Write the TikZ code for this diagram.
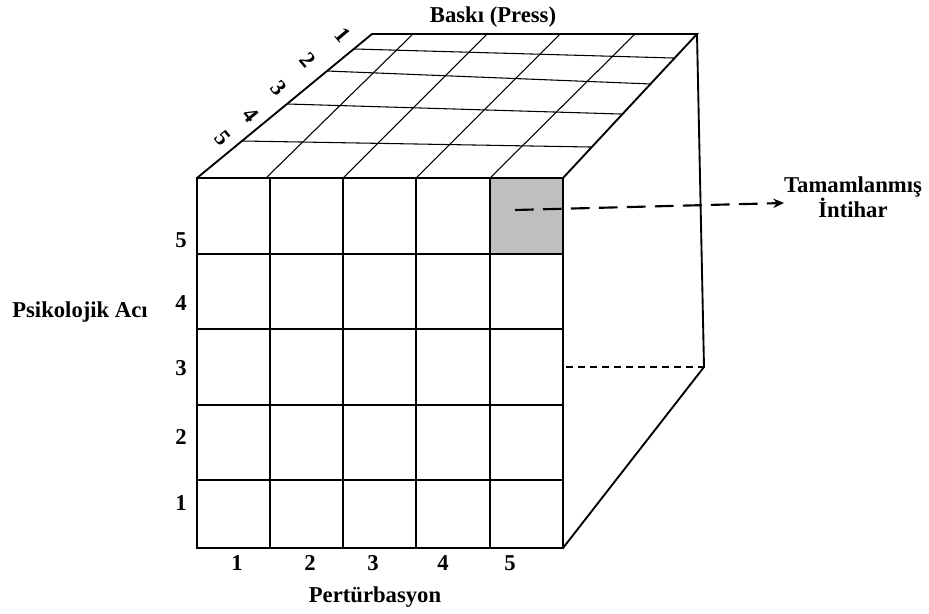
\documentclass[tikz,border=0pt]{standalone}
\usepackage{fontspec}
\setmainfont{Liberation Serif}
\usetikzlibrary{arrows.meta,calc}
\begin{document}
\begin{tikzpicture}[x=0.75pt,y=-0.75pt,
  lbl/.style={font=\fontsize{17}{19}\selectfont\bfseries, text=black, inner sep=0pt},
  frontline/.style={line width=1.7pt},
  topgrid/.style={line width=0.8pt},
  edgeline/.style={line width=1.4pt},
  hidden/.style={line width=1.1pt, dash pattern=on 5pt off 4pt},
  result/.style={line width=1.6pt, dash pattern=on 14pt off 7pt, -{Stealth[length=8pt,width=7pt]}}]
\useasboundingbox (0,0) rectangle (929,614);
% corners
\coordinate (FL) at (197,178);
\coordinate (FR) at (563,178);
\coordinate (BL) at (197,548);
\coordinate (BR) at (563,548);
\coordinate (TL) at (372,34);
\coordinate (TR) at (697,34);
\coordinate (RB) at (704,367);
\coordinate (DM) at (566,367);
% shaded cell
\fill[black!25] (490,178) rectangle (563,254);
% top face
\foreach \a/\b in {0.257/0.215, 0.514/0.444, 0.743/0.653, 0.896/0.833}
  \draw[topgrid] ($(FL)!\a!(TL)$) -- ($(FR)!\b!(TR)$);
\foreach \f/\t in {266/413, 343/487, 416/560, 490/635}
  \draw[topgrid] (\f,178) -- (\t,34);
\draw[edgeline] (FL) -- (TL) -- (TR) -- (FR);
% right side
\draw[edgeline] (TR) -- (RB) -- (BR);
\draw[hidden] (DM) -- (RB);
% front grid
\foreach \x in {270,343,416,490}
  \draw[frontline] (\x,178) -- (\x,548);
\foreach \y in {254,329,405,480}
  \draw[frontline] (197,\y) -- (563,\y);
\draw[frontline, line width=2pt] (FL) rectangle (BR);
% labels
\node[lbl] (press) at (493,17) {Baskı (Press)};
\node[lbl] (acı) at (80,312) {Psikolojik Acı};
\node[lbl] (pert) at (375,597) {Pertürbasyon};
\foreach \n/\y in {5/240,4/303,3/368,2/437,1/503}
  \node[lbl] (r\n) at (181,\y) {\n};
\foreach \n/\x in {1/237,2/310,3/373,4/443,5/510}
  \node[lbl] (c\n) at (\x,563) {\n};
\foreach \n/\x/\y in {1/343/35,2/308/60,3/279/88,4/251/115,5/223/138}
  \node[lbl, rotate=-50] (d\n) at (\x,\y) {\n};
\node[lbl, align=center] (tam) at (853,197) {Tamamlanmış\\İntihar};
\coordinate (s) at (515,210);
\coordinate (e) at (784,203);
\draw[result] (s) -- (e);
\end{tikzpicture}
\end{document}
